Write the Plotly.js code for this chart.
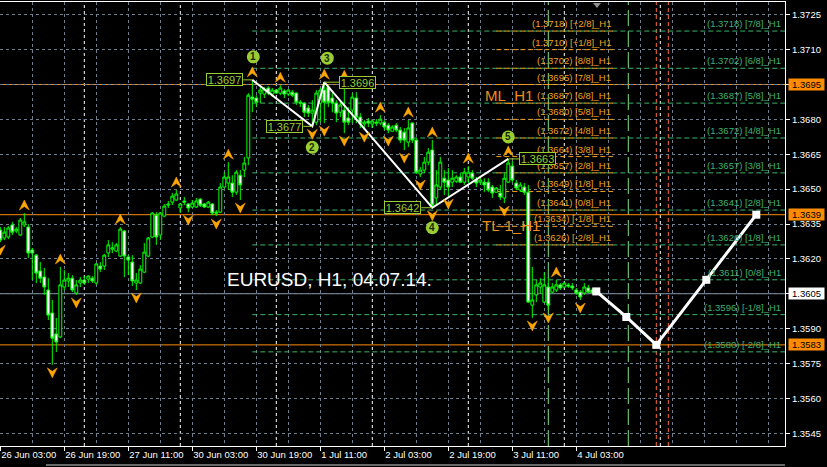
<!DOCTYPE html>
<html>
<head>
<meta charset="utf-8">
<script src="https://cdn.plot.ly/plotly-3.0.1.min.js"></script>
<style>
  html, body { margin: 0; padding: 0; background: #000; }
  #chart { width: 827px; height: 467px; }
</style>
</head>
<body>
<div id="chart"></div>
<script>
// EURUSD H1 bars, 26 Jun 03:00 .. 4 Jul 07:00 (one entry per hour, weekend removed)
const barOpen = [
  1.36324,1.36290,1.36294,1.36346,1.36320,1.36303,1.36346,1.36337,1.36238,1.36216,
  1.36148,1.36122,1.36066,1.35967,1.35877,1.35864,1.36079,1.36105,1.36117,1.36053,
  1.36096,1.36109,1.36113,1.36117,1.36096,1.36169,1.36169,1.36225,1.36242,1.36234,
  1.36212,1.36320,1.36208,1.36186,1.36096,1.36096,1.36143,1.36212,1.36294,1.36388,
  1.36303,1.36384,1.36431,1.36444,1.36453,1.36419,1.36449,1.36436,1.36423,1.36423,
  1.36457,1.36436,1.36423,1.36436,1.36401,1.36401,1.36509,1.36526,1.36526,1.36487,
  1.36560,1.36582,1.36634,1.36896,1.36892,1.36913,1.36909,1.36935,1.36909,1.36926,
  1.36913,1.36922,1.36909,1.36917,1.36913,1.36874,1.36870,1.36849,1.36827,1.36788,
  1.36870,1.36926,1.36939,1.36892,1.36870,1.36831,1.36840,1.36806,1.36840,1.36892,
  1.36810,1.36780,1.36793,1.36780,1.36788,1.36784,1.36788,1.36775,1.36749,1.36775,
  1.36754,1.36745,1.36702,1.36784,1.36711,1.36565,1.36582,1.36616,1.36668,1.36462,
  1.36509,1.36547,1.36539,1.36530,1.36534,1.36552,1.36530,1.36552,1.36569,1.36539,
  1.36530,1.36530,1.36530,1.36509,1.36487,1.36483,1.36462,1.36530,1.36599,1.36526,
  1.36496,1.36509,1.36487,1.36001,1.36045,1.36079,1.36014,1.36079,1.36057,1.36066,
  1.36088,1.36079,1.36088,1.36083,1.36066,1.36057,1.36053,1.36075,1.36066
];
const barHigh = [
  1.36337,1.36337,1.36341,1.36359,1.36337,1.36376,1.36397,1.36350,1.36247,1.36221,
  1.36186,1.36161,1.36117,1.36023,1.35946,1.36165,1.36152,1.36139,1.36130,1.36109,
  1.36122,1.36126,1.36130,1.36126,1.36182,1.36186,1.36221,1.36281,1.36272,1.36268,
  1.36337,1.36324,1.36216,1.36216,1.36139,1.36173,1.36268,1.36294,1.36401,1.36401,
  1.36401,1.36436,1.36449,1.36483,1.36496,1.36440,1.36466,1.36440,1.36453,1.36462,
  1.36462,1.36440,1.36449,1.36440,1.36410,1.36526,1.36573,1.36616,1.36560,1.36582,
  1.36582,1.36638,1.36913,1.36970,1.36904,1.36939,1.36939,1.36943,1.36935,1.36930,
  1.36947,1.36930,1.36930,1.36926,1.36917,1.36883,1.36874,1.36862,1.36883,1.36926,
  1.36935,1.36960,1.36947,1.36913,1.36883,1.36883,1.36955,1.36853,1.36913,1.36917,
  1.36827,1.36797,1.36806,1.36797,1.36801,1.36818,1.36797,1.36784,1.36775,1.36784,
  1.36767,1.36763,1.36797,1.36788,1.36720,1.36595,1.36638,1.36677,1.36711,1.36582,
  1.36638,1.36582,1.36591,1.36582,1.36560,1.36569,1.36591,1.36599,1.36582,1.36552,
  1.36552,1.36547,1.36547,1.36518,1.36509,1.36518,1.36569,1.36630,1.36621,1.36539,
  1.36530,1.36526,1.36518,1.36165,1.36109,1.36117,1.36143,1.36122,1.36096,1.36109,
  1.36096,1.36100,1.36096,1.36096,1.36075,1.36066,1.36096,1.36088,1.36075
];
const barLow = [
  1.36272,1.36281,1.36285,1.36303,1.36311,1.36298,1.36337,1.36204,1.36109,1.36096,
  1.36096,1.36045,1.35937,1.35744,1.35799,1.35859,1.36066,1.36079,1.36057,1.36045,
  1.36079,1.36088,1.36096,1.36096,1.36088,1.36143,1.36152,1.36208,1.36225,1.36229,
  1.36208,1.36122,1.36130,1.36083,1.36066,1.36092,1.36139,1.36208,1.36290,1.36260,
  1.36281,1.36380,1.36419,1.36431,1.36449,1.36397,1.36431,1.36401,1.36419,1.36419,
  1.36423,1.36419,1.36419,1.36388,1.36384,1.36397,1.36505,1.36496,1.36466,1.36475,
  1.36453,1.36552,1.36603,1.36831,1.36853,1.36870,1.36892,1.36904,1.36896,1.36909,
  1.36904,1.36892,1.36900,1.36896,1.36862,1.36853,1.36810,1.36810,1.36770,1.36775,
  1.36788,1.36784,1.36853,1.36831,1.36788,1.36810,1.36741,1.36775,1.36784,1.36784,
  1.36763,1.36758,1.36767,1.36763,1.36771,1.36775,1.36754,1.36741,1.36749,1.36745,
  1.36698,1.36668,1.36681,1.36698,1.36565,1.36552,1.36569,1.36603,1.36420,1.36431,
  1.36496,1.36475,1.36470,1.36509,1.36526,1.36526,1.36518,1.36526,1.36539,1.36509,
  1.36518,1.36487,1.36487,1.36462,1.36483,1.36453,1.36440,1.36526,1.36530,1.36496,
  1.36487,1.36475,1.36010,1.35946,1.36014,1.36053,1.36010,1.35980,1.36053,1.36057,
  1.36066,1.36075,1.36075,1.36066,1.36045,1.36023,1.36045,1.36053,1.36049
];
const barClose = [
  1.36281,1.36315,1.36333,1.36315,1.36328,1.36367,1.36359,1.36225,1.36225,1.36139,
  1.36117,1.36079,1.35958,1.35859,1.35842,1.36088,1.36109,1.36117,1.36066,1.36088,
  1.36109,1.36096,1.36126,1.36105,1.36178,1.36156,1.36216,1.36260,1.36247,1.36260,
  1.36328,1.36212,1.36195,1.36105,1.36109,1.36156,1.36229,1.36290,1.36397,1.36294,
  1.36397,1.36427,1.36436,1.36470,1.36479,1.36436,1.36444,1.36419,1.36440,1.36449,
  1.36431,1.36423,1.36444,1.36397,1.36397,1.36509,1.36552,1.36552,1.36487,1.36573,
  1.36518,1.36612,1.36904,1.36887,1.36874,1.36926,1.36930,1.36913,1.36926,1.36913,
  1.36935,1.36909,1.36926,1.36904,1.36874,1.36870,1.36831,1.36827,1.36840,1.36913,
  1.36926,1.36874,1.36874,1.36870,1.36827,1.36862,1.36788,1.36788,1.36896,1.36810,
  1.36784,1.36788,1.36784,1.36793,1.36784,1.36801,1.36767,1.36754,1.36767,1.36754,
  1.36711,1.36711,1.36763,1.36711,1.36573,1.36582,1.36616,1.36659,1.36431,1.36518,
  1.36616,1.36530,1.36509,1.36547,1.36552,1.36530,1.36573,1.36573,1.36547,1.36526,
  1.36539,1.36518,1.36496,1.36483,1.36505,1.36466,1.36547,1.36612,1.36539,1.36505,
  1.36518,1.36487,1.36014,1.36023,1.36088,1.36096,1.36088,1.36001,1.36079,1.36088,
  1.36075,1.36096,1.36083,1.36075,1.36053,1.36036,1.36079,1.36057,1.36053
];

// time axis labels (bar numbers of the labelled hours)
const tickBars = [0, 16, 32, 48, 64, 80, 96, 112, 128, 144];
const tickLabels = ['26 Jun 03:00','26 Jun 19:00','27 Jun 11:00','30 Jun 03:00','30 Jun 19:00',
                    '1 Jul 11:00','2 Jul 03:00','2 Jul 19:00','3 Jul 11:00','4 Jul 03:00'];

// day starts (00:00 bars) and the two groups of time markers
const dayStarts = [21, 45, 69, 93, 117, 141, 165];
const greenMarks = [137, 157];
const redMarks = [164, 167];

// fractals
const fractalUp = [6, 15, 30, 44, 57, 63, 70, 81, 86, 95, 102, 108, 117, 127, 139];
const fractalDown = [0, 13, 19, 34, 47, 54, 60, 78, 81, 86, 91, 97, 101, 105, 108, 112, 126, 133, 137, 145];

// zigzag swing points
const zzBars = [63, 78, 81, 108, 127];
const zzPrices = [1.3697, 1.3677, 1.3696, 1.3642, 1.3663];
const zzNames = ['1', '2', '3', '4', '5'];

// projected path
const projBars = [149, 156.5, 164, 176.5, 189];
const projPrices = [1.3606, 1.3595, 1.3583, 1.3611, 1.3639];

// Murrey Math levels, ML_H1 (short set) and the wide set
const mlPrices = [1.3718, 1.3710, 1.3702, 1.3695, 1.3687, 1.3680, 1.3672, 1.3664, 1.3657, 1.3649, 1.3641, 1.3634, 1.3626];
const mlNames  = ['+2/8','+1/8','8/8','7/8','6/8','5/8','4/8','3/8','2/8','1/8','0/8','-1/8','-2/8'];
const mmPrices = [1.3718, 1.3702, 1.3687, 1.3672, 1.3657, 1.3641, 1.3626, 1.3611, 1.3596, 1.3580];
const mmNames  = ['7/8','6/8','5/8','4/8','3/8','2/8','1/8','0/8','-1/8','-2/8'];

// horizontal price lines and the bid
const keyLevels = [1.3695, 1.3639, 1.3583];
const bidPrice = 1.3605;

// ---- styling ----
const FONT = 'Liberation Sans, Arial, sans-serif';
const GRID = '#6f7f8f';
const LIME = '#00ff00';
const ORANGE = '#ff8c00';
const GOLD = '#f0a020';
const SEAGREEN = '#3cb371';
const YGREEN = '#9acd32';
const X_RANGE = [-0.075, 196.175];
const Y_RANGE = [1.35395, 1.37305];
const MM_START = 63;            // wide set drawn from this bar to the right edge
const ML_SPAN = [124, 153.2];   // short set span
const circleLift = [23, -21, 24, -20, 22];
const circleDx = [1, 0, 3, 0, 0];
const boxShift = [-9, -9, 15, -11, 11];

const bars = barClose.map((_, i) => i);

const shapes = [];
const annotations = [];

// day separators
dayStarts.forEach(d => shapes.push({
  type: 'line', xref: 'x', yref: 'paper', x0: d, x1: d, y0: 0, y1: 1,
  line: { color: '#ffffff', width: 1, dash: '3px,3px' }, layer: 'between'
}));
greenMarks.forEach(d => shapes.push({
  type: 'line', xref: 'x', yref: 'paper', x0: d, x1: d, y0: 0, y1: 1,
  line: { color: '#80e080', width: 1, dash: '16px,5px' }, layer: 'between'
}));
redMarks.forEach(d => shapes.push({
  type: 'line', xref: 'x', yref: 'paper', x0: d, x1: d, y0: 0, y1: 1,
  line: { color: '#ff6a3d', width: 1, dash: '4px,3px' }, layer: 'between'
}));

// wide Murrey set
mmPrices.forEach((p, k) => {
  shapes.push({
    type: 'line', xref: 'x', yref: 'y', x0: MM_START, x1: X_RANGE[1], y0: p, y1: p,
    line: { color: SEAGREEN, width: 1, dash: '5px,3px' }, layer: 'between'
  });
  annotations.push({
    xref: 'paper', yref: 'y', x: 1, y: p, xanchor: 'right', yanchor: 'bottom', xshift: -2,
    text: '(' + p.toFixed(4) + ') [' + mmNames[k] + ']_H1', showarrow: false,
    font: { family: FONT, size: 9.5, color: SEAGREEN }
  });
});

// short ML_H1 set
mlPrices.forEach((p, k) => {
  shapes.push({
    type: 'line', xref: 'x', yref: 'y', x0: ML_SPAN[0], x1: ML_SPAN[1], y0: p, y1: p,
    line: { color: GOLD, width: 1, dash: '5px,3px' }, layer: 'between'
  });
  annotations.push({
    xref: 'x', yref: 'y', x: ML_SPAN[1], y: p, xanchor: 'right', yanchor: 'bottom',
    text: '(' + p.toFixed(4) + ') [' + mlNames[k] + ']_H1', showarrow: false,
    font: { family: FONT, size: 9.5, color: GOLD }
  });
});

// key levels and bid
keyLevels.forEach(p => {
  shapes.push({
    type: 'line', xref: 'paper', yref: 'y', x0: 0, x1: 1, y0: p, y1: p,
    line: { color: ORANGE, width: 1 }, layer: 'between'
  });
  annotations.push({
    xref: 'paper', yref: 'y', x: 1, y: p, xanchor: 'left', yanchor: 'middle', xshift: 3,
    text: p.toFixed(4), showarrow: false, bgcolor: ORANGE, width: 34, height: 10, borderpad: 0.5,
    font: { family: FONT, size: 9.5, color: '#000000' }
  });
});
shapes.push({
  type: 'line', xref: 'paper', yref: 'y', x0: 0, x1: 1, y0: bidPrice, y1: bidPrice,
  line: { color: '#8494a4', width: 1 }, layer: 'between'
});
annotations.push({
  xref: 'paper', yref: 'y', x: 1, y: bidPrice, xanchor: 'left', yanchor: 'middle', xshift: 3,
  text: bidPrice.toFixed(4), showarrow: false, bgcolor: '#ffffff', width: 34, height: 10, borderpad: 0.5,
  font: { family: FONT, size: 9.5, color: '#000000' }
});

// fractal arrows
fractalUp.forEach(i => shapes.push({
  type: 'path', xref: 'x', yref: 'y', xsizemode: 'pixel', ysizemode: 'pixel',
  xanchor: i, yanchor: barHigh[i], path: 'M-5,3 L0,13 L5,3 L0,6.5 Z',
  fillcolor: '#ffa500', line: { color: '#ffa500', width: 0.5 }, layer: 'above'
}));
fractalDown.forEach(i => shapes.push({
  type: 'path', xref: 'x', yref: 'y', xsizemode: 'pixel', ysizemode: 'pixel',
  xanchor: i, yanchor: barLow[i], path: 'M-5,-3 L0,-13 L5,-3 L0,-6.5 Z',
  fillcolor: '#ffa500', line: { color: '#ffa500', width: 0.5 }, layer: 'above'
}));

// zigzag point labels
zzBars.forEach((b, k) => {
  const p = zzPrices[k];
  const sx = boxShift[k];
  shapes.push({
    type: 'line', xref: 'x', yref: 'y', xsizemode: 'pixel', xanchor: b, x0: 0, x1: sx, y0: p, y1: p,
    line: { color: YGREEN, width: 1 }, layer: 'above'
  });
  annotations.push({
    xref: 'x', yref: 'y', x: b, y: p, xshift: sx, xanchor: sx < 0 ? 'right' : 'left', yanchor: 'middle',
    text: p.toFixed(4), showarrow: false, bgcolor: '#000000', bordercolor: YGREEN, borderwidth: 1,
    borderpad: 0, width: 35, height: 11, font: { family: FONT, size: 11, color: YGREEN }
  });
  const lift = circleLift[k], dx = circleDx[k];
  shapes.push({
    type: 'circle', xref: 'x', yref: 'y', xsizemode: 'pixel', ysizemode: 'pixel',
    xanchor: b, yanchor: p, x0: dx - 6.5, x1: dx + 6.5, y0: lift - 6.5, y1: lift + 6.5,
    fillcolor: YGREEN, line: { width: 0 }, layer: 'above'
  });
  annotations.push({
    xref: 'x', yref: 'y', x: b, y: p, xshift: dx, yshift: lift, xanchor: 'center', yanchor: 'middle',
    text: '<b>' + zzNames[k] + '</b>', showarrow: false,
    font: { family: FONT, size: 10, color: '#1a2a00' }
  });
});

// chart captions
annotations.push({
  xref: 'paper', yref: 'paper', x: 0.2866, y: 0.374, xanchor: 'left', yanchor: 'middle',
  text: 'EURUSD, H1, 04.07.14.', showarrow: false, font: { family: FONT, size: 19, color: '#ffffff' }
});
annotations.push({
  xref: 'paper', yref: 'paper', x: 0.6153, y: 0.7905, xanchor: 'left', yanchor: 'middle',
  text: 'ML_H1', showarrow: false, font: { family: FONT, size: 15, color: '#f08c1e' }
});
annotations.push({
  xref: 'paper', yref: 'paper', x: 0.6115, y: 0.4966, xanchor: 'left', yanchor: 'middle',
  text: 'TL-1_H1', showarrow: false, font: { family: FONT, size: 15, color: '#f08c1e' }
});

// window frame details
shapes.push({
  type: 'line', xref: 'paper', yref: 'paper', x0: 0.0586, x1: 1, y0: -0.0428, y1: -0.0428,
  line: { color: '#d0d0d0', width: 1 }
});
shapes.push({
  type: 'path', xref: 'paper', yref: 'paper', xsizemode: 'pixel', ysizemode: 'pixel',
  xanchor: 0.7605, yanchor: 1, path: 'M-4,-1 L4,-1 L0,-6 Z',
  fillcolor: '#909090', line: { width: 0 }
});

// minor grid every 8 bars
const minorBars = [];
for (let b = 8; b <= 192; b += 8) if (!tickBars.includes(b)) minorBars.push(b);

const traces = [
  {
    type: 'candlestick', x: bars, open: barOpen, high: barHigh, low: barLow, close: barClose,
    increasing: { line: { color: LIME, width: 1 }, fillcolor: '#000000' },
    decreasing: { line: { color: LIME, width: 1 }, fillcolor: '#ffffff' },
    whiskerwidth: 0, hoverinfo: 'skip', showlegend: false
  },
  {
    type: 'scatter', mode: 'lines', x: zzBars, y: zzPrices,
    line: { color: '#ffffff', width: 2 }, hoverinfo: 'skip', showlegend: false
  },
  {
    type: 'scatter', mode: 'lines+markers', x: projBars, y: projPrices,
    line: { color: '#ffffff', width: 3 },
    marker: { symbol: 'square', size: 8, color: '#ffffff' },
    hoverinfo: 'skip', showlegend: false
  }
];

const layout = {
  width: 827, height: 467,
  margin: { l: 0, r: 42, t: 2, b: 21, pad: 0 },
  paper_bgcolor: '#000000', plot_bgcolor: '#000000',
  showlegend: false,
  boxgap: 0.15, boxgroupgap: 0.15,
  font: { family: FONT, color: '#ffffff', size: 9.5 },
  xaxis: {
    type: 'linear', range: X_RANGE, fixedrange: true,
    rangeslider: { visible: false },
    tickmode: 'array', tickvals: tickBars, ticktext: tickLabels,
    ticks: 'outside', ticklen: 4, tickcolor: '#ffffff', tickwidth: 1,
    ticklabelposition: 'outside right',
    tickfont: { family: FONT, size: 9.5, color: '#ffffff' },
    showgrid: true, gridcolor: GRID, griddash: 'dot', gridwidth: 1,
    minor: { tickmode: 'array', tickvals: minorBars, showgrid: true, gridcolor: GRID, griddash: 'dot', ticks: '' },
    showline: true, linecolor: '#ffffff', linewidth: 1, mirror: true, zeroline: false
  },
  yaxis: {
    side: 'right', range: Y_RANGE, fixedrange: true,
    tickmode: 'linear', tick0: 1.3545, dtick: 0.0015, tickformat: '.4f',
    ticks: 'outside', ticklen: 4, tickcolor: '#ffffff',
    tickfont: { family: FONT, size: 9.5, color: '#ffffff' },
    showgrid: true, gridcolor: GRID, griddash: 'dot', gridwidth: 1,
    showline: true, linecolor: '#ffffff', linewidth: 1, zeroline: false
  },
  shapes: shapes,
  annotations: annotations
};

Plotly.newPlot('chart', traces, layout, { staticPlot: true, displayModeBar: false });
</script>
</body>
</html>
